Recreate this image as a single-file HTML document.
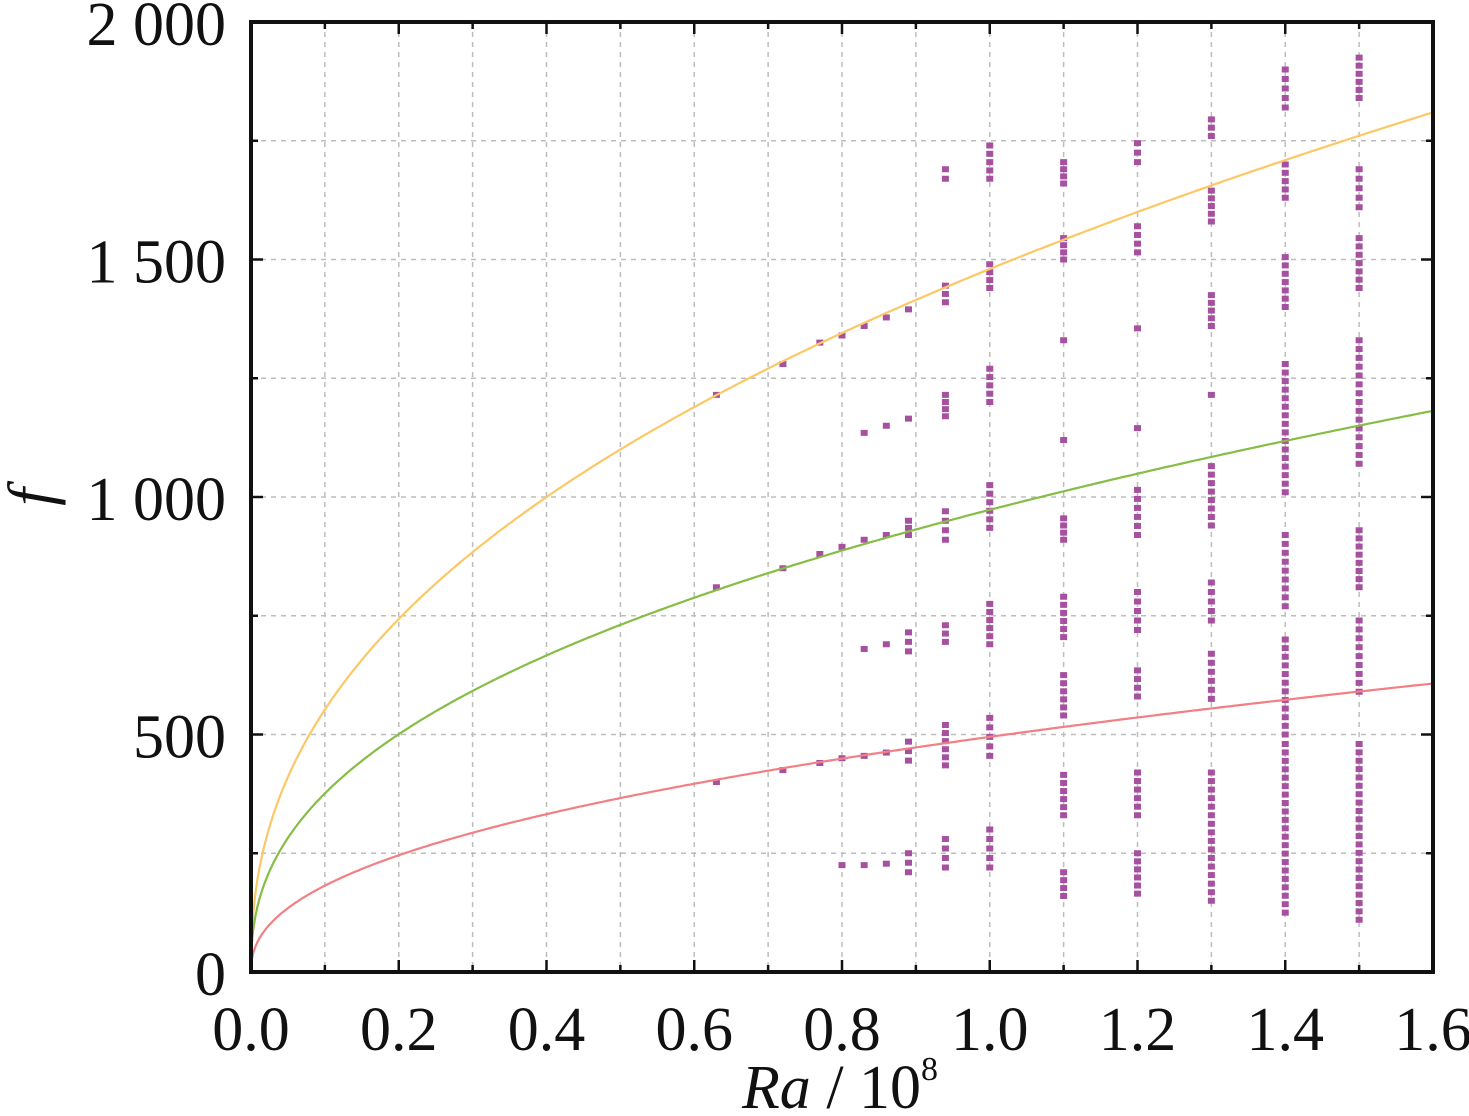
<!DOCTYPE html>
<html><head><meta charset="utf-8"><style>
html,body{margin:0;padding:0;background:#fff;}
svg{display:block;}
</style></head><body>
<svg id="s" width="1469" height="1116" viewBox="0 0 1469 1116" xmlns="http://www.w3.org/2000/svg" font-family="'Liberation Serif', 'Times New Roman', serif">
<g id="grid" stroke="#bdbdbd" stroke-width="1.5" stroke-dasharray="5,5"></g>
<g id="dots" fill="#a5519f"></g>
<g id="curves" fill="none" stroke-width="2.2"></g>
<rect x="251" y="22" width="1182" height="950" fill="none" stroke="#111" stroke-width="4"/>
<g id="ticks" stroke="#111" stroke-width="2.5"></g>
<g id="labels" font-size="62" fill="#111" font-family="'Liberation Serif', serif"></g>
<text x="52" y="497" font-size="64" font-style="italic" text-anchor="middle" fill="#111" font-family="'Liberation Serif', serif" transform="rotate(-90 52 497)">f</text>
<text x="840" y="1108" font-size="62" text-anchor="middle" fill="#111" font-family="'Liberation Serif', serif"><tspan font-style="italic">Ra</tspan> / 10<tspan font-size="34" dy="-28">8</tspan></text>
</svg>
<script>
var NS="http://www.w3.org/2000/svg";
function X(v){return 251+v*738.75;}
function Y(v){return 972-v*0.475;}
function el(p,t,a,txt){var e=document.createElementNS(NS,t);for(var k in a)e.setAttribute(k,a[k]);if(txt!==undefined)e.textContent=txt;document.getElementById(p).appendChild(e);}
for(var i=1;i<16;i++){el("grid","line",{x1:X(i/10),x2:X(i/10),y1:22,y2:972});}
for(var j=1;j<8;j++){el("grid","line",{x1:251,x2:1433,y1:Y(j*250),y2:Y(j*250)});}
for(var i=1;i<16;i++){var x=X(i/10);var L=(i%2==0)?12:7;el("ticks","line",{x1:x,x2:x,y1:972,y2:972-L});el("ticks","line",{x1:x,x2:x,y1:22,y2:22+L});}
for(var j=1;j<8;j++){var y=Y(j*250);var L=(j%2==0)?12:7;el("ticks","line",{x1:251,x2:251+L,y1:y,y2:y});el("ticks","line",{x1:1433,x2:1433-L,y1:y,y2:y});}
var xl=["0.0","0.2","0.4","0.6","0.8","1.0","1.2","1.4","1.6"];
for(var i=0;i<9;i++)el("labels","text",{x:X(i*0.2),y:1050,"text-anchor":"middle"},xl[i]);
var yl=["0","500","1 000","1 500","2 000"];
for(var j=0;j<5;j++)el("labels","text",{x:226,y:Y(j*500)+23,"text-anchor":"end"},yl[j]);
function curve(c,p,col){var d="";for(var k=0;k<=400;k++){var x=1.6*Math.pow(k/400,2);var f=c*Math.pow(x,p);d+=(k?"L":"M")+X(x).toFixed(1)+","+Y(f).toFixed(1);}el("curves","path",{d:d,stroke:col});}
curve(1480,0.428,"#fcc865");curve(973,0.413,"#86bd45");curve(495,0.435,"#f27f84");
var cols={
0.63:[400,810,1215],0.72:[425,850,1280],0.77:[440,880,1325],0.80:[225,450,895,1340],
0.83:[225,455,680,910,1135,1360],0.86:[228,462,690,920,1150,1378],
0.89:[[210,250],[445,485],[675,715],[920,950],1165,1395],
0.94:[[220,280],[435,520],[695,730],[910,970],[1170,1215],[1410,1445],[1670,1690]],
1.0:[[220,300],[455,535],[690,775],[935,1025],[1200,1270],[1440,1490],[1670,1740]],
1.1:[[160,210],[330,415],[540,625],[705,790],[910,955],1120,1330,[1500,1545],[1660,1705]],
1.2:[[165,250],[330,420],[580,635],[720,800],[920,1015],1145,1355,[1515,1570],[1705,1745]],
1.3:[[150,420],[575,670],[740,820],[940,1065],1215,[1360,1425],[1580,1645],[1760,1795]],
1.4:[[125,480],[500,700],[770,920],[1010,1280],[1400,1505],[1630,1700],[1820,1900]],
1.5:[[110,480],[590,740],[810,930],[1070,1330],[1440,1545],[1610,1690],[1840,1925]]};
function dot(x,f){el("dots","rect",{x:X(x)-3.5,y:Y(f)-3,width:7,height:6});}
for(var k in cols){var x=parseFloat(k);cols[k].forEach(function(s){if(typeof s=="number")dot(x,s);else{var n=Math.max(1,Math.round((s[1]-s[0])/18));for(var q=0;q<=n;q++)dot(x,s[0]+(s[1]-s[0])*q/n);}});}
</script>
</body></html>
